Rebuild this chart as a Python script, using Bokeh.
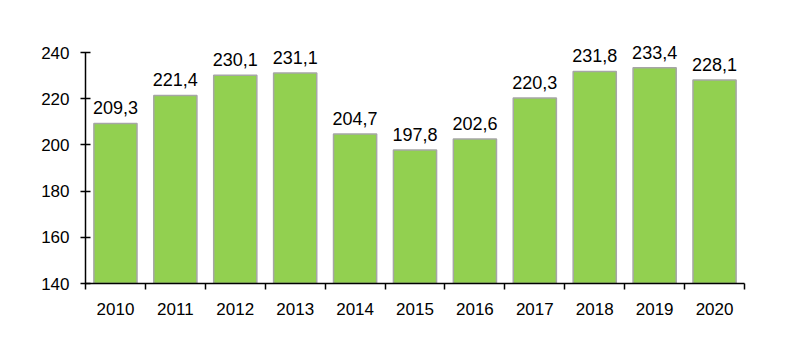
from bokeh.plotting import figure
from bokeh.models import Range1d, FixedTicker, ColumnDataSource
from bokeh.core.properties import value
from bokeh.embed import file_html
from bokeh.resources import INLINE

years = ["2010", "2011", "2012", "2013", "2014", "2015", "2016", "2017", "2018", "2019", "2020"]
values = [209.3, 221.4, 230.1, 231.1, 204.7, 197.8, 202.6, 220.3, 231.8, 233.4, 228.1]
y_ticks = [140, 160, 180, 200, 220, 240]

xs = [i + 0.5 for i in range(len(years))]
labels = [f"{v:.1f}".replace(".", ",") for v in values]
src = ColumnDataSource(dict(x=xs, top=values, label=labels))

# frame: 240 at y=52, 140 at y=283; extend frame up to y=12 so labels are not clipped
y_end = 140 + (283 - 12) * 100 / 231

p = figure(width=790, height=353, output_backend="svg", toolbar_location=None,
           x_range=Range1d(0, len(years)), y_range=Range1d(140, y_end))
p.min_border_left = 85
p.min_border_right = 46
p.min_border_top = 12
p.min_border_bottom = 70
p.outline_line_color = None
p.background_fill_color = "white"
p.border_fill_color = "white"
p.xgrid.visible = False
p.ygrid.visible = False

p.vbar(x="x", top="top", bottom=140, width=0.72, source=src,
       fill_color="#92D050", line_color="#A6A6A6", line_width=1.5)

p.text(x="x", y="top", text="label", source=src, text_align="center",
       text_baseline="bottom", y_offset=-9, text_font=value("Liberation Sans"),
       text_font_size="18px", text_color="black")

xa = p.xaxis[0]
xa.ticker = FixedTicker(ticks=xs, minor_ticks=list(range(len(years) + 1)))
xa.major_label_overrides = {x: y for x, y in zip(xs, years)}
xa.major_tick_in = 0
xa.major_tick_out = 0
xa.minor_tick_in = 0
xa.minor_tick_out = 6
xa.minor_tick_line_color = "black"
xa.axis_line_color = "black"
xa.axis_line_width = 1.5
xa.minor_tick_line_width = 1.5
xa.major_label_standoff = 13
xa.major_label_text_font = "Liberation Sans"
xa.major_label_text_font_size = "17px"
xa.major_label_text_color = "black"

ya = p.yaxis[0]
ya.ticker = FixedTicker(ticks=y_ticks, minor_ticks=[])
ya.bounds = (140, 240)
ya.major_tick_in = 5
ya.major_tick_out = 5
ya.major_tick_line_color = "black"
ya.major_tick_line_width = 1.5
ya.axis_line_color = "black"
ya.axis_line_width = 1.5
ya.minor_tick_line_color = None
ya.major_label_standoff = 11
ya.major_label_text_font = "Liberation Sans"
ya.major_label_text_font_size = "17px"
ya.major_label_text_color = "black"

open("out.html", "w").write(file_html(p, INLINE))
